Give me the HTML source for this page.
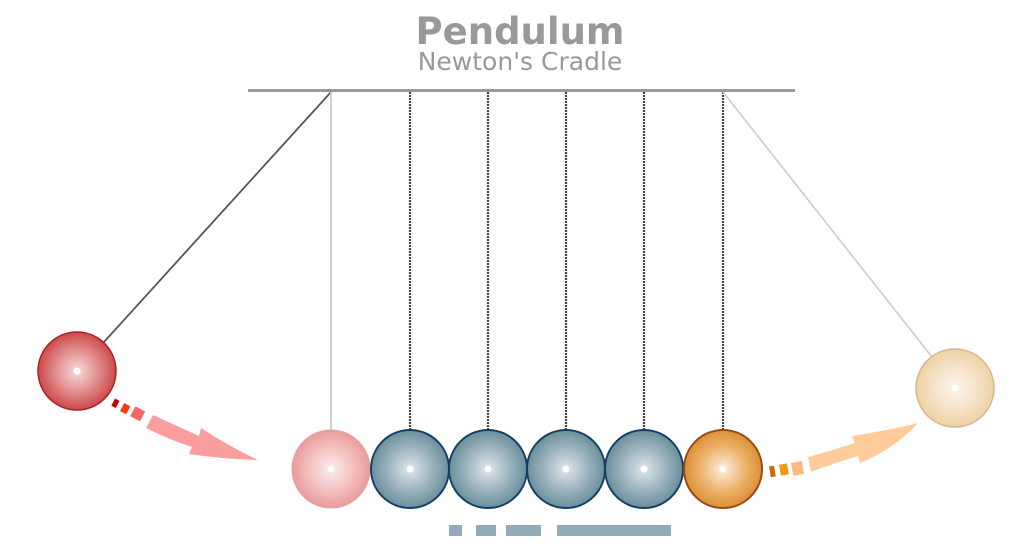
<!DOCTYPE html>
<html><head><meta charset="utf-8"><style>
html,body{margin:0;padding:0;background:#fff;width:1024px;height:558px;overflow:hidden}
</style></head><body>
<svg width="1024" height="558" viewBox="0 0 1024 558" xmlns="http://www.w3.org/2000/svg">
<defs>
<radialGradient id="gRed" cx="0.5" cy="0.5" r="0.55"><stop offset="0" stop-color="#f8dcdc"/><stop offset="0.55" stop-color="#e08585"/><stop offset="1" stop-color="#c83a3c"/></radialGradient>
<radialGradient id="gPink" cx="0.5" cy="0.5" r="0.55"><stop offset="0" stop-color="#fbeeee"/><stop offset="0.6" stop-color="#f2b8b8"/><stop offset="1" stop-color="#e59393"/></radialGradient>
<radialGradient id="gBlue" cx="0.5" cy="0.5" r="0.55"><stop offset="0" stop-color="#dfe6ea"/><stop offset="0.55" stop-color="#98b0bb"/><stop offset="1" stop-color="#5e8796"/></radialGradient>
<radialGradient id="gOr" cx="0.5" cy="0.5" r="0.55"><stop offset="0" stop-color="#fcefe0"/><stop offset="0.55" stop-color="#ebb066"/><stop offset="1" stop-color="#d8892a"/></radialGradient>
<radialGradient id="gPeach" cx="0.5" cy="0.5" r="0.55"><stop offset="0" stop-color="#fcf6ef"/><stop offset="0.6" stop-color="#f4dec0"/><stop offset="1" stop-color="#eccd9f"/></radialGradient>
</defs>
<text x="520" y="44" text-anchor="middle" font-family="'DejaVu Sans','Liberation Sans',sans-serif" font-weight="bold" font-size="37" fill="#999">Pendulum</text>
<text x="520" y="70" text-anchor="middle" font-family="'DejaVu Sans','Liberation Sans',sans-serif" font-size="25" fill="#999">Newton's Cradle</text>
<line x1="248" y1="90.5" x2="795" y2="90.5" stroke="#999" stroke-width="3"/>
<line x1="331" y1="92" x2="104" y2="342" stroke="#555" stroke-width="1.8"/>
<line x1="331" y1="92" x2="331" y2="431" stroke="#ccc" stroke-width="1.8"/>
<g stroke="#444" stroke-width="2.2" stroke-dasharray="2 1">
<line x1="410" y1="92" x2="410" y2="431"/><line x1="488" y1="92" x2="488" y2="431"/>
<line x1="566" y1="92" x2="566" y2="431"/><line x1="644" y1="92" x2="644" y2="431"/>
<line x1="723" y1="92" x2="723" y2="431"/></g>
<line x1="723" y1="92" x2="932" y2="357" stroke="#ccc" stroke-width="1.6"/>
<circle cx="77" cy="371" r="39" fill="url(#gRed)" stroke="#a82224" stroke-width="1.5"/>
<circle cx="331" cy="469" r="39" fill="url(#gPink)" stroke="#e8a0a0" stroke-width="1"/>
<g stroke="#153f63" stroke-width="2" fill="url(#gBlue)">
<circle cx="410" cy="469" r="39"/><circle cx="488" cy="469" r="39"/><circle cx="566" cy="469" r="39"/><circle cx="644" cy="469" r="39"/></g>
<circle cx="723" cy="469" r="39" fill="url(#gOr)" stroke="#9a4a10" stroke-width="2"/>
<circle cx="955" cy="388" r="39" fill="url(#gPeach)" stroke="#d9b58f" stroke-width="1.5"/>
<g fill="#fff"><circle cx="77" cy="371" r="3.5"/><circle cx="331" cy="469" r="3.5"/><circle cx="410" cy="469" r="3.5"/><circle cx="488" cy="469" r="3.5"/><circle cx="566" cy="469" r="3.5"/><circle cx="644" cy="469" r="3.5"/><circle cx="723" cy="469" r="3.5"/><circle cx="955" cy="388" r="3.5"/></g>
<rect x="113" y="399" width="5" height="8" fill="#c40000" transform="rotate(28 115 403)"/>
<rect x="122" y="404" width="7" height="9" fill="#f2400a" transform="rotate(28 125 408)"/>
<rect x="132" y="408" width="11" height="11" fill="#f26565" transform="rotate(28 137 414)"/>
<path d="M153,415 Q175,425 199,436 L201,428 Q230,447 258,460 Q222,459 189,454 L192,447 Q170,440 146,428 Z" fill="#fa9d9d"/>
<rect x="770" y="466" width="5" height="11" fill="#c96a10" transform="rotate(-10 772 472)"/>
<rect x="780" y="464" width="8" height="11" fill="#f09a10" transform="rotate(-10 784 470)"/>
<rect x="792" y="462" width="11" height="13" fill="#fcbb80" transform="rotate(-10 797 468)"/>
<path d="M808,457 Q830,451 855,443 L852,436 Q890,430 918,423 Q893,450 860,463 L858,456 Q835,463 811,472 Z" fill="#ffcb9a"/>
<g fill="#91acb8"><rect x="449" y="525" width="13" height="11"/><rect x="476" y="525" width="20" height="11"/><rect x="506" y="525" width="35" height="11"/><rect x="557" y="525" width="114" height="11"/></g>
</svg>
</body></html>
